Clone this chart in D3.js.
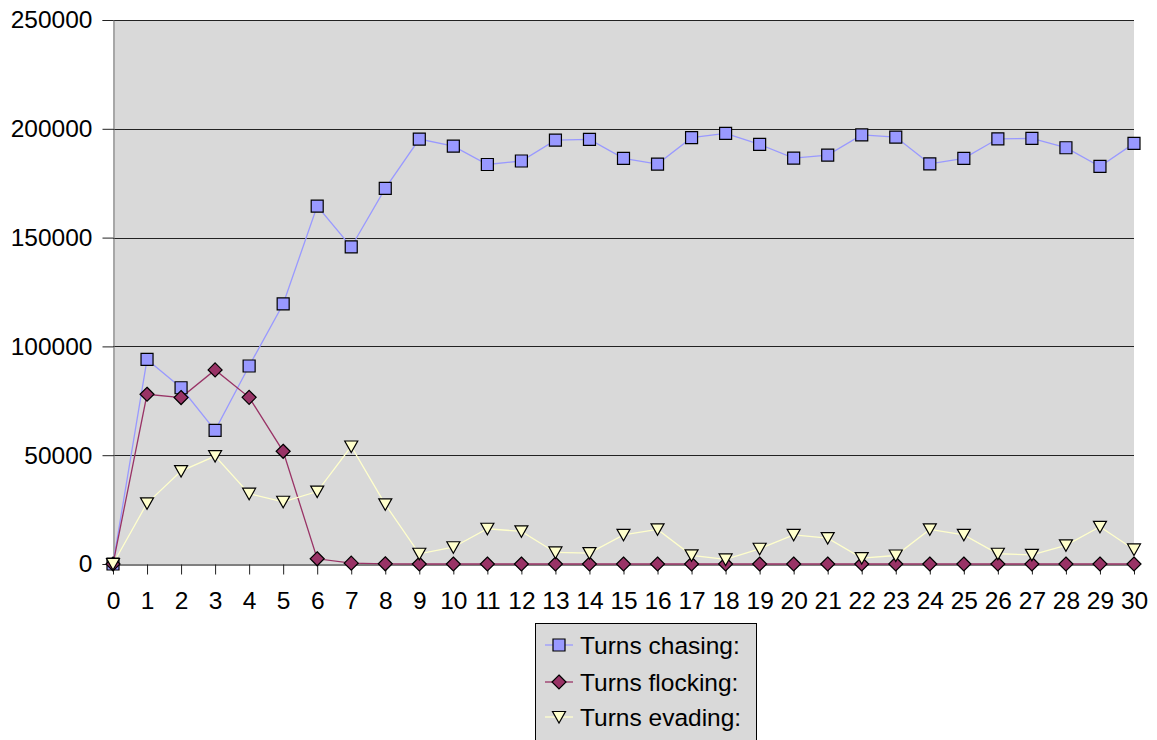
<!DOCTYPE html>
<html>
<head>
<meta charset="utf-8">
<script src="https://cdn.jsdelivr.net/npm/d3@7"></script>
<style>
  html, body { margin: 0; padding: 0; background: #ffffff; }
  svg { display: block; font-family: "Liberation Sans", Arial, sans-serif; }
</style>
</head>
<body>
<svg id="chart" width="1157" height="740"></svg>
<script>
// Turn counts per generation
const generations = d3.range(0, 31).map(String);
const yTicks = [0, 50000, 100000, 150000, 200000, 250000];

const chasing = [0, 94000, 81000, 61400, 91000, 119500, 164500, 145700, 172600, 195300,
  192000, 183600, 185200, 194800, 195100, 186400, 183800, 195900, 197900, 192800,
  186500, 187900, 197200, 196200, 183900, 186400, 195400, 195600, 191300, 182700, 193300];
const flocking = [0, 78000, 76500, 89200, 76600, 51800, 2400, 400, 100, 0,
  0, 0, 0, 0, 0, 0, 0, 0, 0, 0,
  0, 0, 0, 0, 0, 0, 0, 0, 0, 0, 0];
const evading = [0, 27900, 42700, 49600, 32300, 28600, 33300, 54000, 27400, 4700,
  7700, 16200, 15000, 5300, 5000, 13400, 15900, 4000, 2100, 7000,
  13400, 11900, 2700, 3900, 15900, 13400, 4700, 4200, 8600, 17100, 6700];

const seriesNames = ["Turns chasing:", "Turns flocking:", "Turns evading:"];

const series = [
  { name: seriesNames[0], values: chasing,  fill: "#9999ff", line: "#9999ff", shape: "square" },
  { name: seriesNames[1], values: flocking, fill: "#993366", line: "#993366", shape: "diamond" },
  { name: seriesNames[2], values: evading,  fill: "#ffffcc", line: "#ffffcc", shape: "triangle" }
];

const svg = d3.select("#chart");
const plotLeft = 113, plotRight = 1134, plotTop = 20, plotBottom = 564;

const x = d3.scalePoint().domain(generations).range([plotLeft, plotRight]).padding(0);
const y = d3.scaleLinear().domain([0, 250000]).range([plotBottom, plotTop]);

// plot background
svg.append("rect")
  .attr("x", plotLeft).attr("y", plotTop)
  .attr("width", plotRight - plotLeft).attr("height", plotBottom - plotTop)
  .attr("fill", "#d9d9d9");

// horizontal gridlines
svg.append("g").selectAll("line")
  .data(yTicks.filter(d => d > 0))
  .join("line")
  .attr("x1", plotLeft).attr("x2", plotRight)
  .attr("y1", d => Math.round(y(d)) + 0.5).attr("y2", d => Math.round(y(d)) + 0.5)
  .attr("stroke", "#222").attr("stroke-width", 1);

// y axis
const yAxis = svg.append("g")
  .attr("transform", `translate(${plotLeft + 0.5},0)`)
  .call(d3.axisLeft(y).tickValues(yTicks).tickFormat(d3.format("d")).tickSize(11).tickPadding(10));
yAxis.select(".domain").attr("stroke", "#777");
yAxis.selectAll(".tick line").attr("stroke", "#222");
yAxis.selectAll(".tick text")
  .attr("font-size", "24.5px").attr("fill", "#000")
  .attr("font-family", "'Liberation Sans', Arial, sans-serif");

// x axis
const xAxis = svg.append("g")
  .attr("transform", `translate(0,${plotBottom + 0.5})`)
  .call(d3.axisBottom(x).tickSize(10).tickPadding(17).tickSizeOuter(0));
xAxis.select(".domain").attr("stroke", "#000");
xAxis.selectAll(".tick line").attr("stroke", "#222");
xAxis.selectAll(".tick text")
  .attr("font-size", "24.5px").attr("fill", "#000")
  .attr("font-family", "'Liberation Sans', Arial, sans-serif");

// marker shapes
function markerPath(shape) {
  if (shape === "square") return "M-6,-6H6V6H-6Z";
  if (shape === "diamond") return "M0,-7L7,0L0,7L-7,0Z";
  return "M-6.5,-5.5H6.5L0,6Z";
}

const line = d3.line().x((d, i) => x(generations[i])).y(d => y(d));

series.forEach(s => {
  svg.append("path")
    .attr("d", line(s.values))
    .attr("fill", "none")
    .attr("stroke", s.line)
    .attr("stroke-width", 1.3);
});

series.forEach(s => {
  svg.append("g").selectAll("path")
    .data(s.values)
    .join("path")
    .attr("transform", (d, i) => `translate(${x(generations[i])},${y(d)})`)
    .attr("d", markerPath(s.shape))
    .attr("fill", s.fill)
    .attr("stroke", "#000")
    .attr("stroke-width", 1.2);
});

// legend
const legend = svg.append("g");
legend.append("rect")
  .attr("x", 535.5).attr("y", 623.5)
  .attr("width", 221).attr("height", 130)
  .attr("fill", "#d9d9d9").attr("stroke", "#000").attr("stroke-width", 1);

const rowY = [645, 682, 717];
series.forEach((s, i) => {
  const g = legend.append("g").attr("transform", `translate(0,${rowY[i]})`);
  g.append("line")
    .attr("x1", 545).attr("x2", 573).attr("y1", 0).attr("y2", 0)
    .attr("stroke", s.line).attr("stroke-width", 1.3);
  g.append("path")
    .attr("transform", "translate(559,0)")
    .attr("d", markerPath(s.shape))
    .attr("fill", s.fill).attr("stroke", "#000").attr("stroke-width", 1.2);
  g.append("text")
    .attr("x", 580).attr("y", 0).attr("dy", "0.35em")
    .attr("font-size", "24.5px").attr("fill", "#000")
    .text(s.name);
});
</script>
</body>
</html>
